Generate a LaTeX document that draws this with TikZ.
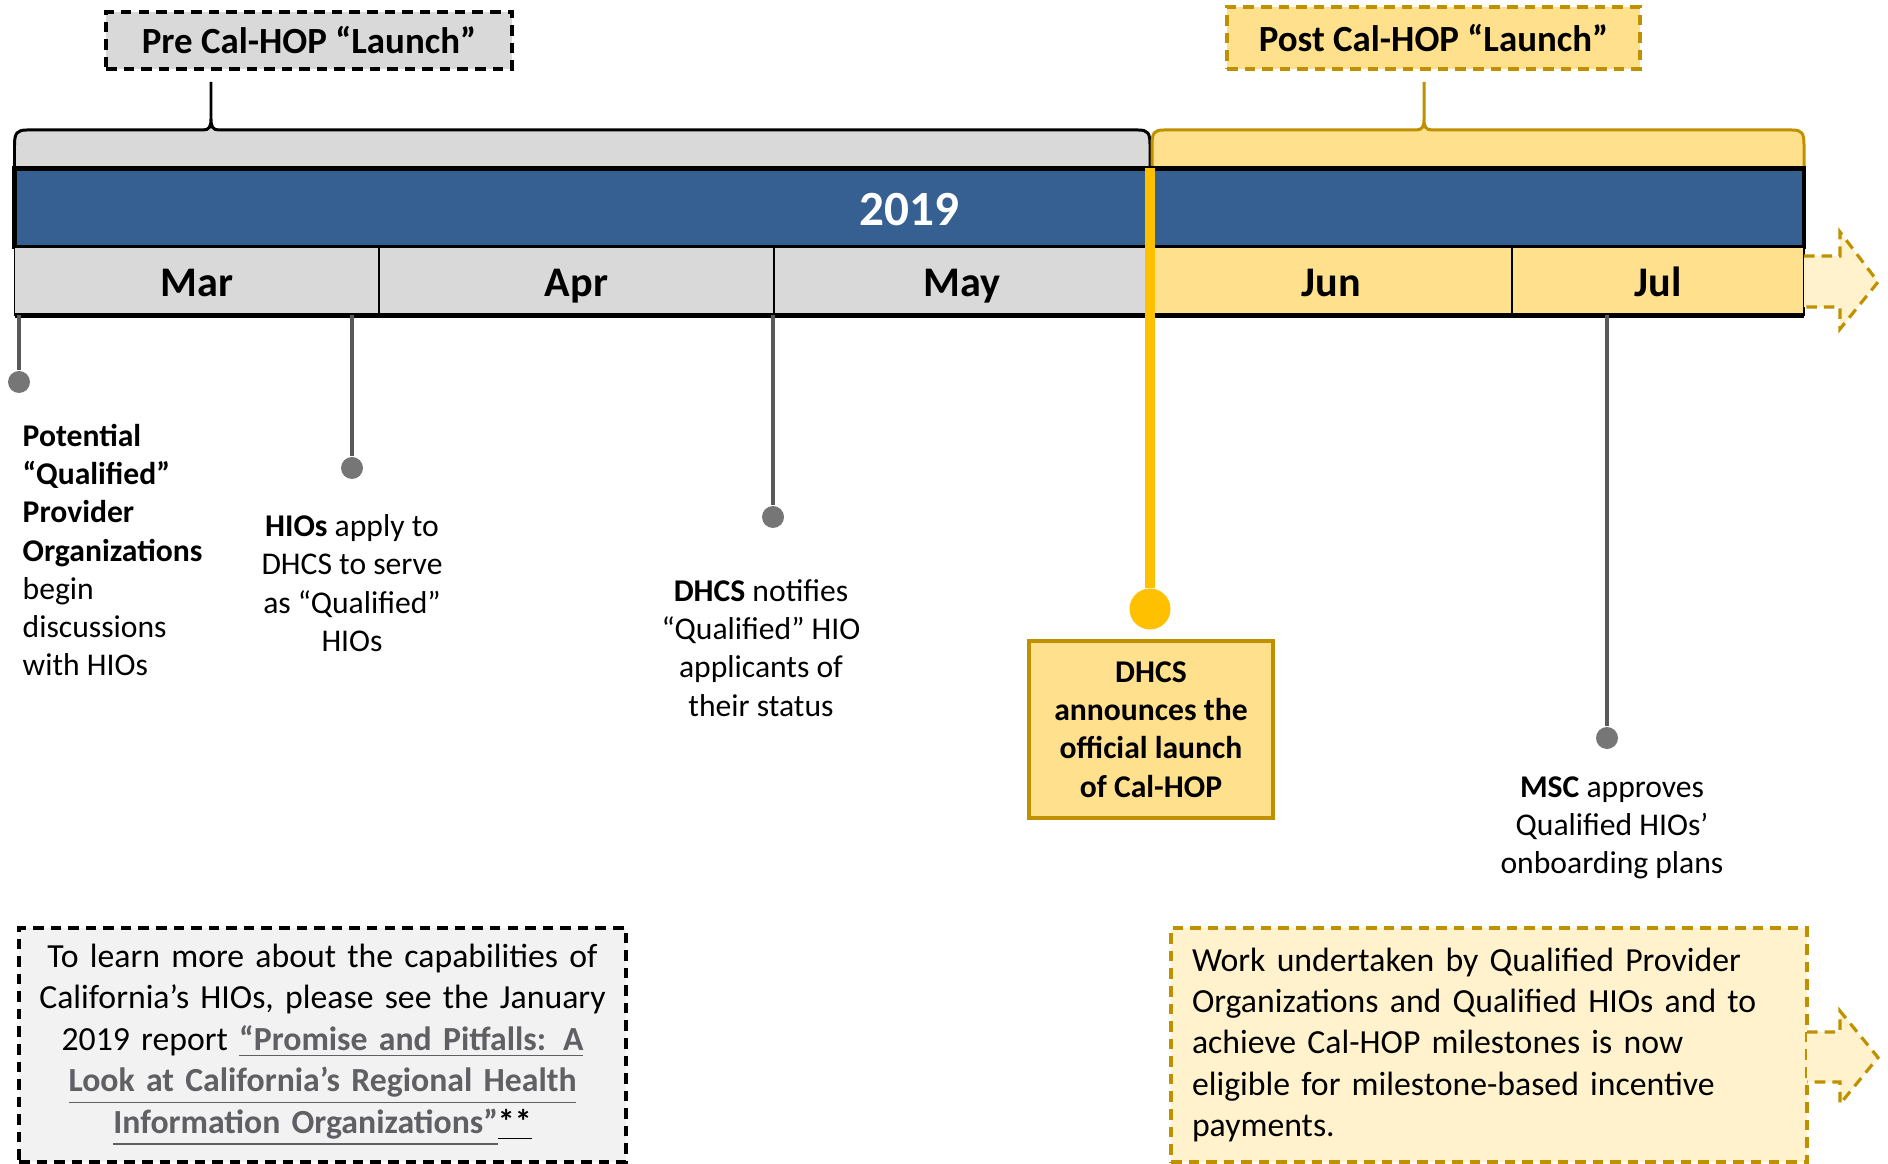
\documentclass[tikz,border=0pt]{standalone}
\usepackage{fontspec}
\setmainfont{Carlito}
\usepackage{tikz}

\definecolor{bleufrise}{RGB}{54,96,146}
\definecolor{grisclair}{RGB}{217,217,217}
\definecolor{grisnote}{RGB}{242,242,242}
\definecolor{orclair}{RGB}{255,224,140}
\definecolor{jaunepale}{RGB}{255,242,204}
\definecolor{ordore}{RGB}{191,144,0}
\definecolor{jaunelancement}{RGB}{255,192,0}
\definecolor{tigegris}{RGB}{89,89,89}
\definecolor{pastillegris}{RGB}{118,118,118}
\definecolor{lien}{RGB}{95,95,100}

\begin{document}
\begin{tikzpicture}[
    frise/.style={draw=black, line width=1.4pt, fill=bleufrise, text=white, inner sep=0pt, outer sep=0pt, anchor=north west, text height=10pt, text depth=0pt, font=\fontsize{14}{17}\selectfont\bfseries},
    mois/.style={draw=black, line width=0.5pt, minimum height=0.685cm, inner sep=0pt, outer sep=0pt, anchor=north west, text height=8.6pt, text depth=0pt, font=\fontsize{12}{14}\selectfont\bfseries},
    entete/.style={line width=0.9pt, dash pattern=on 3pt off 2pt, inner sep=0pt, font=\fontsize{10.5}{12}\selectfont\bfseries},
    tige/.style={draw=tigegris, line width=1.4pt},
    pastille/.style={circle, fill=pastillegris, inner sep=0pt, minimum size=0.22cm},
    jalon/.style={inner sep=0pt, font=\fontsize{9}{10.9}\selectfont},
    encadre/.style={line width=0.9pt, dash pattern=on 3pt off 2pt, minimum height=2.34cm, inner ysep=0pt, font=\fontsize{9.6}{11.8}\selectfont},
    fleche/.style={draw=ordore, fill=jaunepale, line width=0.9pt, dash pattern=on 3pt off 2pt}
  ]
    \useasboundingbox (0, 0) rectangle (18.88, -11.64);

    % titres
    \node[entete, draw=black, fill=grisclair, minimum width=4.06cm, minimum height=0.57cm] (avant) at (3.09, -0.405) {Pre Cal-HOP “Launch”};
    \node[entete, draw=ordore, fill=orclair, minimum width=4.13cm, minimum height=0.62cm] (apres) at (14.335, -0.38) {Post Cal-HOP “Launch”};

    % accolades
    \draw[draw=black, fill=grisclair, line width=0.85pt] (0.145, -1.685) -- (0.145, -1.45) .. controls (0.145, -1.33) and (0.17, -1.30) .. (0.27, -1.30) -- (2.03, -1.30) .. controls (2.09, -1.30) and (2.11, -1.27) .. (2.11, -1.19) -- (2.11, -0.82) -- (2.11, -1.19) .. controls (2.11, -1.27) and (2.13, -1.30) .. (2.19, -1.30) -- (11.38, -1.30) .. controls (11.48, -1.30) and (11.50, -1.33) .. (11.50, -1.45) -- (11.50, -1.685);
    \draw[draw=ordore, fill=orclair, line width=0.85pt] (11.52, -1.685) -- (11.52, -1.45) .. controls (11.52, -1.33) and (11.54, -1.30) .. (11.64, -1.30) -- (14.16, -1.30) .. controls (14.22, -1.30) and (14.24, -1.27) .. (14.24, -1.19) -- (14.24, -0.82) -- (14.24, -1.19) .. controls (14.24, -1.27) and (14.26, -1.30) .. (14.32, -1.30) -- (17.92, -1.30) .. controls (18.02, -1.30) and (18.04, -1.33) .. (18.04, -1.45) -- (18.04, -1.685);

    % frise
    \node[frise, minimum width=17.895cm, minimum height=0.785cm] (annee) at (0.145, -1.685) {2019};
    \node[mois, fill=grisclair, minimum width=3.645cm] (mar) at (0.145, -2.47) {Mar};
    \node[mois, fill=grisclair, minimum width=3.95cm] (apr) at (mar.north east) {Apr};
    \node[mois, fill=grisclair, minimum width=3.76cm] (may) at (apr.north east) {May};
    \node[mois, fill=orclair, minimum width=3.62cm] (jun) at (may.north east) {Jun};
    \node[mois, fill=orclair, minimum width=2.92cm] (jul) at (jun.north east) {Jul};
    \draw[line width=1.4pt] (mar.south west) -- (jul.south east);
    \draw[fleche] (18.04, -2.56) -- (18.40, -2.56) -- (18.40, -2.32) -- (18.78, -2.82) -- (18.40, -3.29) -- (18.40, -3.07) -- (18.04, -3.07);

    % lancement
    \coordinate (hautlancement) at (11.50, -1.685);
    \node[circle, fill=jaunelancement, inner sep=0pt, minimum size=0.41cm] (pointlancement) at (11.50, -6.09) {};
    \draw[draw=jaunelancement, line width=2.85pt] (hautlancement) -- (pointlancement);
    \node[draw=ordore, line width=1.4pt, fill=orclair, minimum width=2.44cm, minimum height=1.77cm, inner sep=0pt, align=center, font=\fontsize{9}{10.9}\selectfont\bfseries] (annonce) at (11.51, -7.295) {DHCS\\announces the\\official launch\\of Cal-HOP};

    % jalons
    \coordinate (t1) at (0.19, -3.155);
    \coordinate (t2) at (3.52, -3.155);
    \coordinate (t3) at (7.73, -3.155);
    \coordinate (t4) at (16.07, -3.155);
    \node[pastille] (p1) at (0.19, -3.82) {};
    \node[pastille] (p2) at (3.52, -4.68) {};
    \node[pastille] (p3) at (7.73, -5.17) {};
    \node[pastille] (p4) at (16.07, -7.38) {};
    \draw[tige] (t1) -- (p1);
    \draw[tige] (t2) -- (p2);
    \draw[tige] (t3) -- (p3);
    \draw[tige] (t4) -- (p4);

    \node[jalon, align=left, anchor=west] (txt1) at (0.22, -5.50) {\textbf{Potential}\\\textbf{“Qualified”}\\\textbf{Provider}\\\textbf{Organizations}\\begin\\discussions\\with HIOs};
    \node[jalon, align=center] (txt2) at (3.52, -5.83) {\textbf{HIOs} apply to\\DHCS to serve\\as “Qualified”\\HIOs};
    \node[jalon, align=center] (txt3) at (7.61, -6.48) {\textbf{DHCS} notifies\\“Qualified” HIO\\applicants of\\their status};
    \node[jalon, align=center] (txt4) at (16.12, -8.28) {\textbf{MSC} approves\\Qualified HIOs’\\onboarding plans};

    % encadres du bas
    \node[encadre, draw=black, fill=grisnote, minimum width=6.07cm, text width=5.95cm, inner xsep=0.06cm, align=center] (noteavant) at (3.225, -10.45) {To learn more about the capabilities of\\California’s HIOs, please see the January\\2019 report \textcolor{lien}{\textbf{\underline{“Promise and Pitfalls: A}}}\\\textcolor{lien}{\textbf{\underline{Look at California’s Regional Health}}}\\\textcolor{lien}{\textbf{\underline{Information Organizations”}}}\textbf{\underline{**}}};
    \node[encadre, draw=ordore, fill=jaunepale, minimum width=6.36cm, text width=5.94cm, inner xsep=0.21cm, align=left] (noteapres) at (14.89, -10.45) {Work undertaken by Qualified Provider\\Organizations and Qualified HIOs and to\\achieve Cal-HOP milestones is now\\eligible for milestone-based incentive\\payments.};
    \draw[fleche] (18.07, -10.32) -- (18.40, -10.32) -- (18.40, -10.11) -- (18.78, -10.575) -- (18.40, -11.04) -- (18.40, -10.82) -- (18.07, -10.82);

  \end{tikzpicture}
\end{document}
